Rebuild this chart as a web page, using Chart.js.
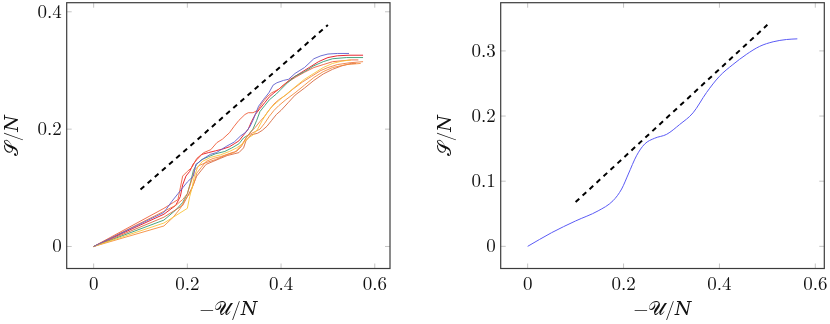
<!DOCTYPE html>
<html>
<head>
<meta charset="utf-8">
<script src="https://cdn.jsdelivr.net/npm/chart.js@4/dist/chart.umd.min.js"></script>
<style>
  html,body{margin:0;padding:0;background:#fff;}
  #wrap{position:relative;width:830px;height:324px;overflow:hidden;}
  canvas{position:absolute;top:0;}
</style>
</head>
<body>
<div id="wrap">
  <canvas id="left" width="415" height="324" style="left:0"></canvas>
  <canvas id="right" width="415" height="324" style="left:415px"></canvas>
</div>
<script>
// ---------- data ----------
const xTicks = [0, 0.2, 0.4, 0.6];
const yTicksLeft = [0, 0.2, 0.4];
const yTicksRight = [0, 0.1, 0.2, 0.3];
const xTitle = "\u2212\uD835\uDCB0/\uD835\uDC41";   // −𝒰/𝑁
const yTitle = "\uD835\uDCAE/\uD835\uDC41";          // 𝒮/𝑁

// left panel: individual runs
const runBlue = [[0,0],[0.15,0.058],[0.167,0.077],[0.18,0.09],[0.19,0.1],[0.2,0.11],[0.213,0.12],[0.218,0.14],[0.227,0.145],[0.235,0.15],[0.249,0.157],[0.262,0.16],[0.272,0.165],[0.284,0.171],[0.3,0.178],[0.313,0.188],[0.325,0.195],[0.334,0.205],[0.34,0.215],[0.345,0.225],[0.352,0.239],[0.362,0.25],[0.374,0.262],[0.383,0.275],[0.391,0.279],[0.405,0.283],[0.416,0.285],[0.43,0.295],[0.45,0.305],[0.47,0.32],[0.485,0.325],[0.5,0.328],[0.52,0.329],[0.545,0.329]];
const runRed = [[0,0],[0.15,0.055],[0.175,0.07],[0.185,0.085],[0.19,0.105],[0.197,0.12],[0.205,0.128],[0.212,0.14],[0.22,0.148],[0.231,0.157],[0.245,0.16],[0.26,0.163],[0.275,0.166],[0.29,0.17],[0.3,0.175],[0.31,0.18],[0.32,0.19],[0.33,0.2],[0.337,0.213],[0.345,0.225],[0.355,0.235],[0.365,0.245],[0.375,0.255],[0.385,0.262],[0.395,0.268],[0.405,0.275],[0.42,0.285],[0.44,0.295],[0.46,0.305],[0.48,0.315],[0.5,0.322],[0.52,0.325],[0.545,0.326],[0.575,0.326]];
const runGreen = [[0,0],[0.15,0.045],[0.175,0.062],[0.19,0.075],[0.2,0.09],[0.207,0.11],[0.213,0.13],[0.22,0.14],[0.23,0.148],[0.245,0.153],[0.26,0.158],[0.28,0.162],[0.295,0.168],[0.31,0.175],[0.32,0.185],[0.33,0.19],[0.34,0.2],[0.348,0.215],[0.355,0.23],[0.365,0.24],[0.375,0.25],[0.39,0.26],[0.4,0.268],[0.415,0.28],[0.43,0.29],[0.45,0.298],[0.47,0.308],[0.49,0.315],[0.51,0.32],[0.54,0.322],[0.575,0.322]];
const runYellow = [[0,0],[0.15,0.04],[0.18,0.055],[0.2,0.065],[0.205,0.085],[0.21,0.1],[0.215,0.12],[0.222,0.135],[0.232,0.145],[0.25,0.152],[0.27,0.156],[0.29,0.162],[0.305,0.168],[0.318,0.175],[0.33,0.185],[0.34,0.19],[0.35,0.2],[0.36,0.215],[0.37,0.228],[0.38,0.238],[0.39,0.245],[0.4,0.252],[0.415,0.262],[0.43,0.272],[0.45,0.285],[0.47,0.295],[0.49,0.305],[0.51,0.312],[0.53,0.316],[0.55,0.318]];
const runOrange = [[0,0],[0.15,0.035],[0.17,0.05],[0.185,0.065],[0.195,0.08],[0.205,0.09],[0.215,0.11],[0.22,0.125],[0.23,0.135],[0.24,0.145],[0.255,0.15],[0.27,0.153],[0.285,0.157],[0.3,0.16],[0.31,0.168],[0.32,0.178],[0.33,0.19],[0.345,0.196],[0.355,0.2],[0.365,0.21],[0.375,0.222],[0.385,0.232],[0.395,0.24],[0.41,0.25],[0.43,0.262],[0.45,0.275],[0.47,0.288],[0.49,0.298],[0.51,0.305],[0.54,0.31],[0.57,0.312]];
const runCoral = [[0,0],[0.15,0.065],[0.17,0.075],[0.18,0.08],[0.185,0.1],[0.19,0.12],[0.2,0.128],[0.21,0.135],[0.22,0.15],[0.235,0.16],[0.25,0.165],[0.263,0.177],[0.275,0.183],[0.29,0.194],[0.3,0.205],[0.31,0.215],[0.323,0.225],[0.33,0.228],[0.34,0.228],[0.35,0.232],[0.36,0.245],[0.37,0.255],[0.38,0.262],[0.395,0.268],[0.41,0.278],[0.43,0.288],[0.45,0.297],[0.47,0.305],[0.49,0.31],[0.51,0.315],[0.55,0.318],[0.565,0.318]];
const runBrown = [[0,0],[0.15,0.05],[0.17,0.06],[0.19,0.07],[0.2,0.085],[0.21,0.1],[0.22,0.12],[0.23,0.13],[0.24,0.14],[0.255,0.145],[0.27,0.15],[0.285,0.155],[0.3,0.158],[0.31,0.16],[0.32,0.168],[0.325,0.18],[0.335,0.19],[0.35,0.193],[0.36,0.198],[0.37,0.205],[0.38,0.215],[0.39,0.225],[0.4,0.232],[0.415,0.245],[0.43,0.258],[0.45,0.27],[0.47,0.283],[0.49,0.294],[0.51,0.302],[0.53,0.308],[0.55,0.312],[0.56,0.312]];
const runAmber = [[0,0],[0.15,0.06],[0.175,0.07],[0.19,0.08],[0.2,0.09],[0.21,0.115],[0.215,0.13],[0.225,0.138],[0.24,0.143],[0.26,0.148],[0.28,0.155],[0.295,0.16],[0.305,0.162],[0.315,0.17],[0.325,0.185],[0.335,0.195],[0.345,0.203],[0.355,0.213],[0.365,0.222],[0.375,0.233],[0.385,0.243],[0.395,0.25],[0.41,0.258],[0.425,0.268],[0.445,0.28],[0.465,0.29],[0.485,0.3],[0.5,0.305],[0.52,0.31],[0.545,0.313],[0.575,0.315]];
const guideLeft = [[0.1,0.097],[0.5,0.3775]];

// right panel: averaged curve
const meanCurve = [[0,0],[0.05,0.021],[0.1,0.039],[0.147,0.0545],[0.178,0.070],[0.196,0.088],[0.21,0.111],[0.227,0.139],[0.244,0.157],[0.265,0.166],[0.29,0.172],[0.317,0.187],[0.345,0.205],[0.373,0.236],[0.40,0.261],[0.428,0.279],[0.456,0.2945],[0.484,0.307],[0.512,0.314],[0.54,0.3175],[0.5625,0.3185]];
const guideRight = [[0.1,0.068],[0.5,0.34]];

// ---------- helpers ----------
const SERIF = "'Latin Modern Roman','Liberation Serif','DejaVu Serif',serif";
const toXY = arr => arr.map(p => ({x:p[0], y:p[1]}));

const framePlugin = {
  id:'frame',
  afterDatasetsDraw(chart){
    const {ctx, chartArea:a, scales:{x, y}} = chart;
    ctx.save();
    ctx.strokeStyle = '#b5b5b5';
    ctx.lineWidth = 0.8;
    const seg = (x1,y1,x2,y2)=>{ctx.beginPath();ctx.moveTo(x1,y1);ctx.lineTo(x2,y2);ctx.stroke();};
    x.ticks.forEach(t=>{
      const px = x.getPixelForValue(t.value);
      seg(px, a.bottom, px, a.bottom-5);
      seg(px, a.top, px, a.top+5);
    });
    y.ticks.forEach(t=>{
      const py = y.getPixelForValue(t.value);
      seg(a.left, py, a.left+5, py);
      seg(a.right, py, a.right-5, py);
    });
    ctx.strokeStyle = '#3c3c3c';
    ctx.lineWidth = 1.2;
    ctx.strokeRect(a.left, a.top, a.right-a.left, a.bottom-a.top);
    ctx.restore();
  }
};

function makeChart(id, datasets, cfg){
  return new Chart(document.getElementById(id), {
    type:'line',
    data:{datasets},
    plugins:[framePlugin],
    options:{
      responsive:false,
      animation:false,
      devicePixelRatio:1,
      layout:{padding:cfg.padding},
      plugins:{legend:{display:false}, tooltip:{enabled:false}},
      elements:{point:{radius:0}, line:{borderWidth:1}},
      scales:{
        x:{
          type:'linear', min:cfg.xMin, max:cfg.xMax,
          grid:{display:false, drawTicks:false},
          border:{display:false},
          afterBuildTicks:s=>{s.ticks = xTicks.map(v=>({value:v}));},
          afterFit:s=>{s.height = cfg.xHeight; s.paddingLeft = 0; s.paddingRight = 0;},
          ticks:{padding:4, color:'#111', font:{family:SERIF, size:19}, callback:v=>String(v)},
          title:{display:true, text:xTitle, color:'#111', font:{family:SERIF, size:19}, padding:{top:0,bottom:3}}
        },
        y:{
          type:'linear', min:cfg.yMin, max:cfg.yMax,
          grid:{display:false, drawTicks:false},
          border:{display:false},
          afterBuildTicks:s=>{s.ticks = cfg.yTicks.map(v=>({value:v}));},
          afterFit:s=>{s.width = cfg.yWidth; s.paddingTop = 0; s.paddingBottom = 0;},
          ticks:{padding:5, color:'#111', font:{family:SERIF, size:19}, callback:v=>String(v)},
          title:{display:true, text:yTitle, color:'#111', font:{family:SERIF, size:19}, padding:{top:1,bottom:0}}
        }
      }
    }
  });
}

const runColors = [
  [runBlue,'rgba(95,95,205,0.9)'],
  [runYellow,'rgba(248,196,60,0.9)'],
  [runOrange,'rgba(244,140,60,0.9)'],
  [runBrown,'rgba(215,105,65,0.9)'],
  [runAmber,'rgba(240,120,55,0.85)'],
  [runGreen,'rgba(55,155,115,0.9)'],
  [runCoral,'rgba(238,95,60,0.9)'],
  [runRed,'rgba(232,30,40,0.95)']
];
const leftSets = runColors.map(([d,c])=>({data:toXY(d), borderColor:c, borderWidth:1, tension:0}));
leftSets.push({data:toXY(guideLeft), borderColor:'#000', borderWidth:2, borderDash:[5,4.5], tension:0});

makeChart('left', leftSets, {
  padding:{left:0, top:2.7, right:25, bottom:0},
  xMin:-0.0575, xMax:0.6325, yMin:-0.0375, yMax:0.4155,
  yTicks:yTicksLeft, yWidth:66.7, xHeight:55.5
});

makeChart('right', [
  {data:toXY(meanCurve), borderColor:'#5a5af5', borderWidth:1, cubicInterpolationMode:'monotone'},
  {data:toXY(guideRight), borderColor:'#000', borderWidth:2, borderDash:[5,4.5], tension:0}
], {
  padding:{left:17.6, top:2.7, right:5.7, bottom:0},
  xMin:-0.05625, xMax:0.61875, yMin:-0.034, yMax:0.374,
  yTicks:yTicksRight, yWidth:68.1, xHeight:55.5
});
</script>
</body>
</html>
